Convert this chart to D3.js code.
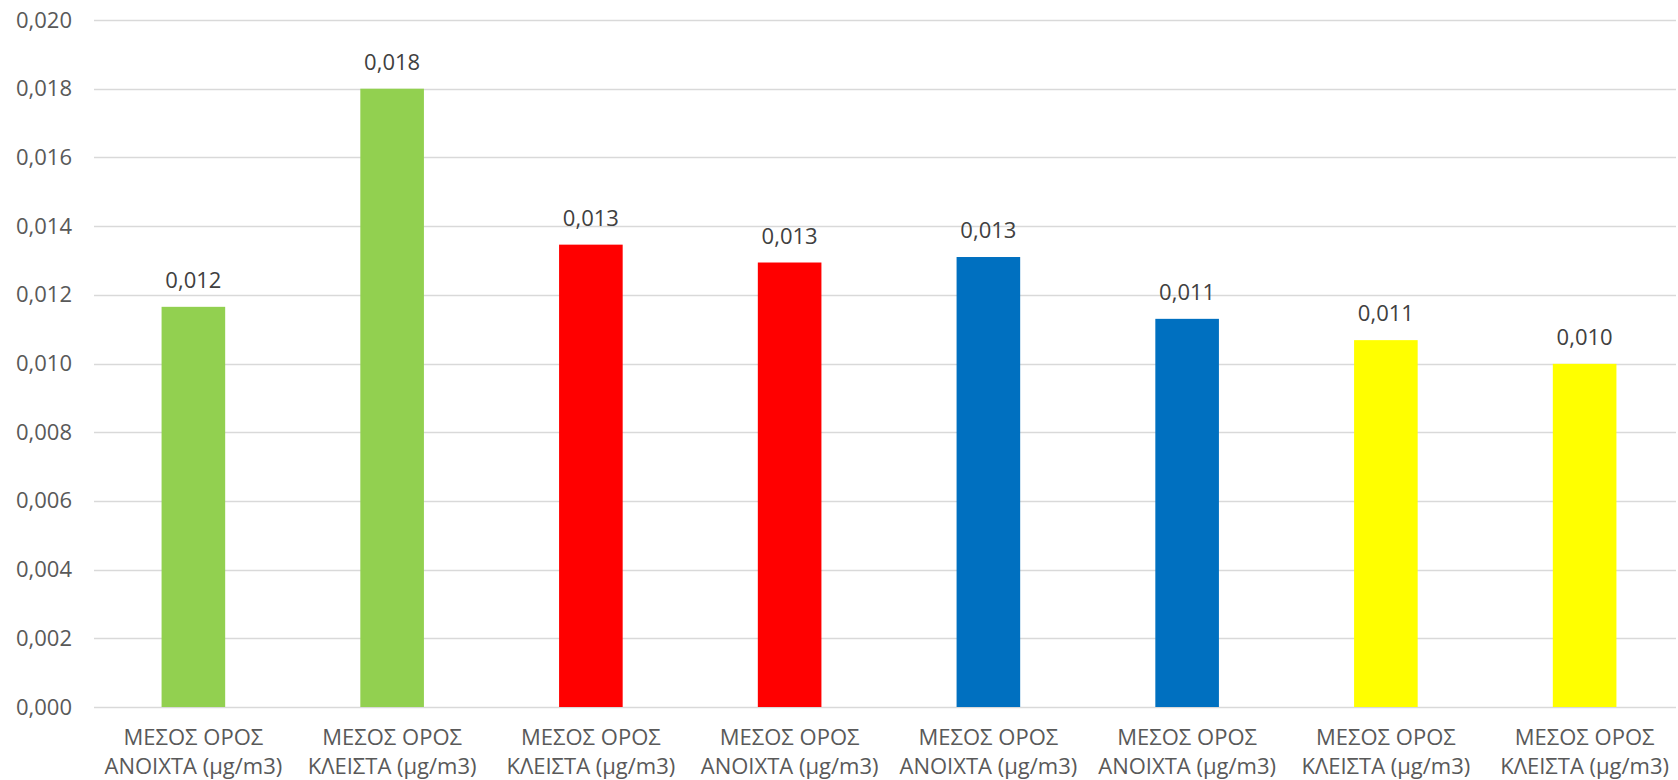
<!DOCTYPE html>
<html>
<head>
<meta charset="utf-8">
<script src="https://cdn.jsdelivr.net/npm/d3@7"></script>
<style>
  html, body { margin: 0; padding: 0; background: #ffffff; }
  svg { display: block; font-family: "Open Sans", "Noto Sans", sans-serif; }
</style>
</head>
<body>
<svg id="chart" width="1678" height="780"></svg>
<script>
// Mean concentrations per measurement, in μg/m3
const categories = [
  ["ΜΕΣΟΣ ΟΡΟΣ", "ΑΝΟΙΧΤΑ (μg/m3)"],
  ["ΜΕΣΟΣ ΟΡΟΣ", "ΚΛΕΙΣΤΑ (μg/m3)"],
  ["ΜΕΣΟΣ ΟΡΟΣ", "ΚΛΕΙΣΤΑ (μg/m3)"],
  ["ΜΕΣΟΣ ΟΡΟΣ", "ΑΝΟΙΧΤΑ (μg/m3)"],
  ["ΜΕΣΟΣ ΟΡΟΣ", "ΑΝΟΙΧΤΑ (μg/m3)"],
  ["ΜΕΣΟΣ ΟΡΟΣ", "ΑΝΟΙΧΤΑ (μg/m3)"],
  ["ΜΕΣΟΣ ΟΡΟΣ", "ΚΛΕΙΣΤΑ (μg/m3)"],
  ["ΜΕΣΟΣ ΟΡΟΣ", "ΚΛΕΙΣΤΑ (μg/m3)"]
];
const values = [0.01165, 0.018, 0.01346, 0.01294, 0.0131, 0.0113, 0.01068, 0.00999];
const barColors = ["#92D050", "#92D050", "#FF0000", "#FF0000", "#0070C0", "#0070C0", "#FFFF00", "#FFFF00"];
const yTicks = [0, 0.002, 0.004, 0.006, 0.008, 0.010, 0.012, 0.014, 0.016, 0.018, 0.020];

const svg = d3.select("#chart");
const W = 1678, H = 780;
const plotLeft = 94, plotRight = 1676, plotTop = 20, plotBottom = 707;

const fmt = v => d3.format(".3f")(v).replace(".", ",");

const x = d3.scaleBand()
  .domain(d3.range(values.length))
  .range([plotLeft, 1684])
  .paddingInner(0.68)
  .paddingOuter(0.34);

const y = d3.scaleLinear()
  .domain([0, 0.020])
  .range([plotBottom, plotTop]);

// Horizontal gridlines
svg.append("g")
  .selectAll("line")
  .data(yTicks)
  .join("line")
  .attr("x1", plotLeft)
  .attr("x2", plotRight)
  .attr("y1", d => Math.round(y(d)) + 0.5)
  .attr("y2", d => Math.round(y(d)) + 0.5)
  .attr("stroke", "#d9d9d9")
  .attr("stroke-width", 1.5);

// Y axis labels
const yAxis = d3.axisLeft(y).tickValues(yTicks).tickFormat(fmt).tickSize(0).tickPadding(0);
const gy = svg.append("g")
  .attr("transform", `translate(72,0)`)
  .call(yAxis);
gy.select(".domain").remove();
gy.selectAll("text")
  .attr("fill", "#595959")
  .style("font-size", "22px")
  .style("font-family", "'Open Sans', sans-serif");

// Bars
svg.append("g")
  .selectAll("rect")
  .data(values)
  .join("rect")
  .attr("x", (d, i) => x(i))
  .attr("width", x.bandwidth())
  .attr("y", d => y(d))
  .attr("height", d => y(0) - y(d))
  .attr("fill", (d, i) => barColors[i]);

// Value labels above bars
svg.append("g")
  .selectAll("text")
  .data(values)
  .join("text")
  .attr("x", (d, i) => x(i) + x.bandwidth() / 2)
  .attr("y", d => y(d) - 19)
  .attr("text-anchor", "middle")
  .attr("fill", "#404040")
  .style("font-size", "22px")
  .text(d => fmt(d));

// Category labels on two lines
const xAxis = d3.axisBottom(x).tickSize(0).tickFormat("");
const gx = svg.append("g")
  .attr("transform", `translate(0,${y(0)})`)
  .call(xAxis);
gx.select(".domain").remove();

const catG = svg.append("g")
  .selectAll("text")
  .data(categories)
  .join("text")
  .attr("text-anchor", "middle")
  .attr("fill", "#595959")
  .style("font-size", "22px")
  .attr("transform", (d, i) => `translate(${x(i) + x.bandwidth() / 2},${y(0) + 38})`);
catG.selectAll("tspan")
  .data(d => d)
  .join("tspan")
  .attr("x", 0)
  .attr("dy", (d, j) => j === 0 ? 0 : 29)
  .text(d => d);
</script>
</body>
</html>
